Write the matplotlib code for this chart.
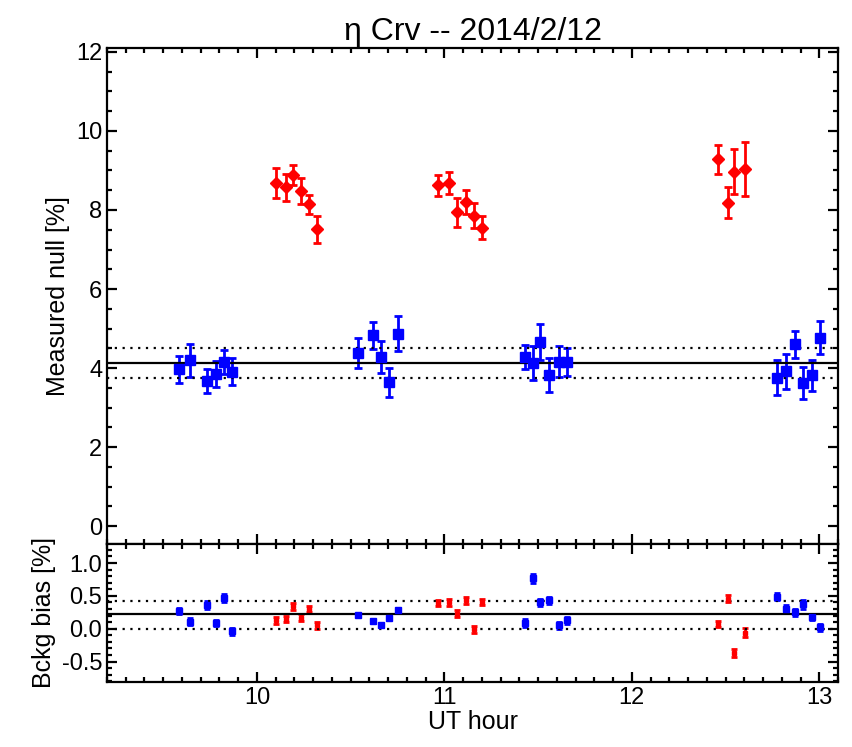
import matplotlib
matplotlib.use("Agg")
from matplotlib import pyplot as plt
from matplotlib.ticker import MultipleLocator, FormatStrFormatter

plt.rcParams["font.family"] = ["Liberation Sans", "DejaVu Sans"]

# Datos del panel superior (null medido, %)
t_cal = [9.586, 9.643, 9.735, 9.782, 9.826, 9.867,
         10.541, 10.621, 10.662, 10.703, 10.751,
         11.430, 11.471, 11.512, 11.556, 11.613, 11.656,
         12.773, 12.822, 12.870, 12.913, 12.961, 13.004]
null_cal = [3.97, 4.20, 3.68, 3.85, 4.16, 3.91,
            4.39, 4.83, 4.28, 3.64, 4.87,
            4.28, 4.13, 4.66, 3.82, 4.16, 4.16,
            3.76, 3.92, 4.60, 3.62, 3.82, 4.77]
err_cal = [0.34, 0.42, 0.30, 0.32, 0.30, 0.35,
           0.38, 0.34, 0.40, 0.37, 0.45,
           0.30, 0.44, 0.45, 0.43, 0.39, 0.36,
           0.45, 0.44, 0.35, 0.40, 0.39, 0.41]

t_sci = [10.100, 10.153, 10.194, 10.235, 10.278, 10.319,
         10.964, 11.025, 11.069, 11.115, 11.158, 11.199,
         12.461, 12.511, 12.545, 12.604]
null_sci = [8.68, 8.57, 8.89, 8.49, 8.15, 7.51,
            8.62, 8.68, 7.94, 8.20, 7.86, 7.55,
            9.28, 8.18, 8.97, 9.03]
err_sci = [0.38, 0.33, 0.26, 0.33, 0.24, 0.34,
           0.27, 0.27, 0.37, 0.30, 0.32, 0.29,
           0.37, 0.39, 0.57, 0.68]

null_mean = 4.14
null_lo, null_hi = 3.75, 4.52

# Datos del panel inferior (sesgo de fondo, %)
bias_cal = [0.27, 0.11, 0.36, 0.09, 0.47, -0.04,
            0.21, 0.12, 0.06, 0.16, 0.28,
            0.09, 0.77, 0.40, 0.43, 0.05, 0.13,
            0.49, 0.30, 0.25, 0.37, 0.18, 0.02]
berr_cal = [0.05, 0.06, 0.06, 0.05, 0.06, 0.05,
            0.02, 0.03, 0.03, 0.03, 0.04,
            0.06, 0.07, 0.05, 0.06, 0.05, 0.05,
            0.06, 0.06, 0.05, 0.07, 0.05, 0.06]
bias_sci = [0.13, 0.15, 0.34, 0.17, 0.30, 0.05,
            0.39, 0.40, 0.23, 0.43, -0.01, 0.41,
            0.07, 0.46, -0.37, -0.06]
berr_sci = [0.05, 0.05, 0.05, 0.05, 0.05, 0.05,
            0.05, 0.05, 0.05, 0.05, 0.05, 0.05,
            0.05, 0.05, 0.06, 0.07]

bias_mean = 0.22
bias_lo, bias_hi = 0.0, 0.42

fig = plt.figure(figsize=(8.52, 7.47), dpi=100)
ax1 = fig.add_axes([0.1256, 0.2718, 0.8580, 0.6640])
ax2 = fig.add_axes([0.1256, 0.0870, 0.8580, 0.1848])

dotted = (0, (1, 2.5))

# Panel superior
ax1.errorbar(t_cal, null_cal, yerr=err_cal, fmt="s", color="blue", ms=6.5,
             elinewidth=2, capsize=3, capthick=2)
ax1.errorbar(t_sci, null_sci, yerr=err_sci, fmt="D", color="red", ms=6,
             elinewidth=2, capsize=3, capthick=2)
ax1.axhline(null_mean, color="black", lw=1.6)
ax1.axhline(null_lo, color="black", lw=1.6, ls=dotted)
ax1.axhline(null_hi, color="black", lw=1.6, ls=dotted)

# Panel inferior
ax2.errorbar(t_cal, bias_cal, yerr=berr_cal, fmt="s", color="blue", ms=4.5,
             elinewidth=2, capsize=2.5, capthick=2)
ax2.errorbar(t_sci, bias_sci, yerr=berr_sci, fmt="s", color="red", ms=2.5,
             elinewidth=2, capsize=2.5, capthick=2)
ax2.axhline(bias_mean, color="black", lw=1.6)
ax2.axhline(bias_lo, color="black", lw=1.6, ls=dotted)
ax2.axhline(bias_hi, color="black", lw=1.6, ls=dotted)

for ax in (ax1, ax2):
    ax.set_xlim(9.2, 13.1)
    ax.xaxis.set_major_locator(MultipleLocator(1))
    ax.xaxis.set_minor_locator(MultipleLocator(0.1))
    for s in ax.spines.values():
        s.set_linewidth(1.6)
    ax.tick_params(which="both", direction="in", top=True, right=True,
                   width=1.6, labelsize=17)
    ax.tick_params(which="major", length=7)
    ax.tick_params(which="minor", length=3.5)

ax1.set_ylim(-0.45, 12.1)
ax1.yaxis.set_major_locator(MultipleLocator(2))
ax1.yaxis.set_minor_locator(MultipleLocator(0.5))
ax1.tick_params(labelbottom=False)
ax1.set_ylabel("Measured null [%]", fontsize=18)
ax1.set_title("\u03b7 Crv -- 2014/2/12", fontsize=23, pad=6)

ax2.set_ylim(-0.81, 1.29)
ax2.yaxis.set_major_locator(MultipleLocator(0.5))
ax2.yaxis.set_minor_locator(MultipleLocator(0.1))
ax2.yaxis.set_major_formatter(FormatStrFormatter("%.1f"))
ax2.set_ylabel("Bckg bias [%]", fontsize=18)
ax2.set_xlabel("UT hour", fontsize=18, labelpad=1)

fig.savefig("out.png", dpi=100)
